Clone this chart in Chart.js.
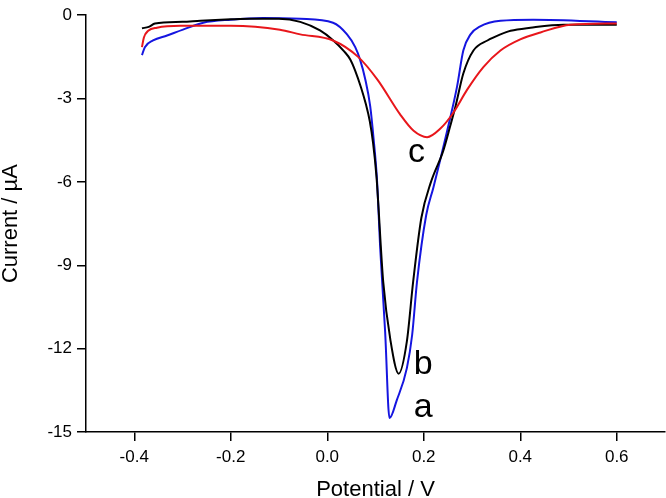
<!DOCTYPE html>
<html>
<head>
<meta charset="utf-8">
<script src="https://cdn.jsdelivr.net/npm/chart.js@4"></script>
<style>
  html, body { margin: 0; padding: 0; background: #fff; }
  #wrap { width: 666px; height: 498px; }
</style>
</head>
<body>
<div id="wrap"><canvas id="cv"></canvas></div>
<script>
// Curve a (blue)
const xA = [-0.384, -0.378, -0.361, -0.332, -0.299, -0.257, -0.2, -0.133, -0.056, 0.012, 0.041, 0.058, 0.068, 0.079, 0.089, 0.096, 0.103, 0.11, 0.12, 0.129, 0.144, 0.165, 0.176, 0.186, 0.205, 0.22, 0.251, 0.269, 0.282, 0.297, 0.317, 0.359, 0.427, 0.6];
const yA = [-1.44, -1.15, -0.91, -0.73, -0.52, -0.27, -0.16, -0.1, -0.13, -0.27, -0.69, -1.15, -1.6, -2.32, -3.27, -4.44, -5.9, -8.46, -11.4, -14.5, -13.86, -12.7, -11.5, -9.6, -7.2, -6.2, -3.98, -2.57, -1.27, -0.69, -0.4, -0.2, -0.16, -0.25];

// Curve b (black)
const xB = [-0.384, -0.37, -0.357, -0.3, -0.263, -0.2, -0.16, -0.1, -0.056, -0.015, 0.012, 0.035, 0.048, 0.058, 0.07, 0.08, 0.088, 0.095, 0.102, 0.116, 0.131, 0.148, 0.165, 0.178, 0.195, 0.215, 0.24, 0.255, 0.266, 0.282, 0.303, 0.332, 0.359, 0.38, 0.421, 0.49, 0.6];
const yB = [-0.47, -0.42, -0.3, -0.24, -0.2, -0.15, -0.13, -0.13, -0.24, -0.55, -0.9, -1.3, -1.6, -2.0, -2.6, -3.2, -3.8, -4.6, -5.8, -9.6, -11.7, -12.9, -11.74, -9.6, -7.3, -6.0, -4.9, -3.98, -3.27, -2.1, -1.27, -0.91, -0.69, -0.56, -0.45, -0.34, -0.34];

// Curve c (red)
const xC = [-0.384, -0.38, -0.371, -0.353, -0.305, -0.2, -0.098, -0.056, 0.012, 0.064, 0.104, 0.151, 0.179, 0.207, 0.234, 0.261, 0.29, 0.324, 0.359, 0.4, 0.442, 0.504, 0.6];
const yC = [-1.15, -0.8, -0.56, -0.45, -0.38, -0.38, -0.52, -0.69, -0.91, -1.5, -2.32, -3.57, -4.16, -4.39, -4.09, -3.52, -2.68, -1.86, -1.27, -0.87, -0.62, -0.34, -0.3];

const xTicks = [-0.4, -0.2, 0.0, 0.2, 0.4, 0.6];
const yTicks = [0, -3, -6, -9, -12, -15];

// curve letters, in data coordinates
const labelText = ['a', 'b', 'c'];
const labelX = [0.199, 0.199, 0.185];
const labelY = [-14.14, -12.56, -4.95];

const toPts = (xs, ys) => xs.map((x, i) => ({ x: x, y: ys[i] }));

const FONT = 'Liberation Sans, Arial, sans-serif';

const curveLabels = {
  id: 'curveLabels',
  afterDatasetsDraw(chart) {
    const ctx = chart.ctx;
    const xs = chart.scales.x, ys = chart.scales.y;
    ctx.save();
    ctx.fillStyle = '#000';
    ctx.font = '34px ' + FONT;
    ctx.textAlign = 'center';
    ctx.textBaseline = 'middle';
    labelText.forEach((t, i) => {
      ctx.fillText(t, xs.getPixelForValue(labelX[i]), ys.getPixelForValue(labelY[i]));
    });
    ctx.restore();
  }
};

const lineStyle = color => ({
  borderColor: color,
  backgroundColor: color,
  borderWidth: 2,
  pointRadius: 0,
  showLine: true,
  fill: false,
  cubicInterpolationMode: 'monotone'
});

new Chart(document.getElementById('cv'), {
  type: 'scatter',
  data: {
    datasets: [
      Object.assign({ label: 'c', data: toPts(xC, yC) }, lineStyle('#e8161b')),
      Object.assign({ label: 'b', data: toPts(xB, yB) }, lineStyle('#000000')),
      Object.assign({ label: 'a', data: toPts(xA, yA) }, lineStyle('#1515e0'))
    ]
  },
  options: {
    responsive: true,
    maintainAspectRatio: false,
    animation: false,
    layout: { padding: { top: 7, right: 1, left: 0, bottom: 0 } },
    plugins: {
      legend: { display: false },
      tooltip: { enabled: false }
    },
    scales: {
      x: {
        type: 'linear',
        min: -0.5,
        max: 0.7,
        afterFit: s => { s.height = 66; },
        afterBuildTicks: s => { s.ticks = xTicks.map(v => ({ value: v })); },
        border: { display: true, color: '#000', width: 1.5 },
        grid: { display: true, drawOnChartArea: false, drawTicks: true, tickLength: 9, color: '#000', lineWidth: 1.5 },
        ticks: {
          color: '#000',
          font: { family: FONT, size: 17 },
          padding: 6,
          maxRotation: 0,
          callback: v => v.toFixed(1)
        },
        title: {
          display: true,
          text: 'Potential / V',
          color: '#000',
          font: { family: FONT, size: 22 },
          padding: { top: 0, bottom: -5 }
        }
      },
      y: {
        type: 'linear',
        min: -15,
        max: 0,
        afterFit: s => { s.width = 86; },
        afterBuildTicks: s => { s.ticks = yTicks.map(v => ({ value: v })); },
        border: { display: true, color: '#000', width: 1.5 },
        grid: { display: true, drawOnChartArea: false, drawTicks: true, tickLength: 9, color: '#000', lineWidth: 1.5 },
        ticks: {
          color: '#000',
          font: { family: FONT, size: 17 },
          padding: 5,
          callback: v => String(v)
        },
        title: {
          display: true,
          text: 'Current / µA',
          color: '#000',
          font: { family: FONT, size: 22 },
          padding: { top: -2, bottom: 0 }
        }
      }
    }
  },
  plugins: [curveLabels]
});
</script>
</body>
</html>
